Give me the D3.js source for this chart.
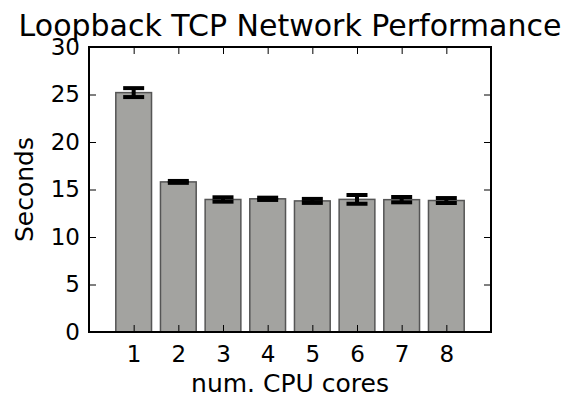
<!DOCTYPE html>
<html>
<head>
<meta charset="utf-8">
<script src="https://cdn.jsdelivr.net/npm/d3@7"></script>
<style>
  body { margin: 0; background: #fff; }
  text { font-family: "DejaVu Sans", sans-serif; fill: #000; }
</style>
</head>
<body>
<div id="chart"></div>
<script>
// data
var cores = [1, 2, 3, 4, 5, 6, 7, 8];
var seconds = [25.2, 15.8, 13.95, 14.02, 13.8, 13.96, 13.93, 13.84];
var errors = [0.47, 0.1, 0.23, 0.12, 0.21, 0.46, 0.28, 0.26];
var yTicks = [0, 5, 10, 15, 20, 25, 30];

var width = 579, height = 415;
var mLeft = 89, mRight = 491, mTop = 47, mBottom = 332;

var svg = d3.select('#chart').append('svg')
    .attr('width', width)
    .attr('height', height);

var x = d3.scaleLinear().domain([0, 9]).range([mLeft, mRight]);
var y = d3.scaleLinear().domain([0, 30]).range([mBottom, mTop]);

// bars
svg.append('g').selectAll('rect')
    .data(cores)
  .enter().append('rect')
    .attr('x', function(d) { return x(d - 0.4); })
    .attr('y', function(d, i) { return y(seconds[i]); })
    .attr('width', function(d) { return x(d + 0.4) - x(d - 0.4); })
    .attr('height', function(d, i) { return y(0) - y(seconds[i]); })
    .attr('fill', '#a3a3a0')
    .attr('stroke', '#555')
    .attr('stroke-width', 1.5);

// error bars
var eb = svg.append('g').selectAll('g')
    .data(cores)
  .enter().append('g');

eb.append('line')
    .attr('x1', function(d) { return x(d); })
    .attr('x2', function(d) { return x(d); })
    .attr('y1', function(d, i) { return y(seconds[i] - errors[i]); })
    .attr('y2', function(d, i) { return y(seconds[i] + errors[i]); })
    .attr('stroke', '#000')
    .attr('stroke-width', 4);

[-1, 1].forEach(function(s) {
  eb.append('line')
      .attr('x1', function(d) { return x(d) - 10.5; })
      .attr('x2', function(d) { return x(d) + 10.5; })
      .attr('y1', function(d, i) { return y(seconds[i] + s * errors[i]); })
      .attr('y2', function(d, i) { return y(seconds[i] + s * errors[i]); })
      .attr('stroke', '#000')
      .attr('stroke-width', 4);
});

// axes, ticks inside on all four sides
var tl = 7;
var gx = svg.append('g').attr('transform', 'translate(0,' + mBottom + ')')
    .call(d3.axisBottom(x).tickValues(cores).tickSize(-tl).tickPadding(12).tickFormat(d3.format('d')));
var gxt = svg.append('g').attr('transform', 'translate(0,' + mTop + ')')
    .call(d3.axisTop(x).tickValues(cores).tickSize(-tl).tickFormat(''));
var gy = svg.append('g').attr('transform', 'translate(' + mLeft + ',0)')
    .call(d3.axisLeft(y).tickValues(yTicks).tickSize(-tl).tickPadding(9));
var gyr = svg.append('g').attr('transform', 'translate(' + mRight + ',0)')
    .call(d3.axisRight(y).tickValues(yTicks).tickSize(-tl).tickFormat(''));

[gx, gxt, gy, gyr].forEach(function(g) {
  g.select('.domain').remove();
  g.selectAll('.tick line').attr('stroke', '#000').attr('stroke-width', 1);
  g.selectAll('.tick text').attr('font-size', 23).attr('font-family', 'DejaVu Sans');
});
gx.selectAll('.tick text').attr('dy', '0.78em');

svg.append('rect')
    .attr('x', mLeft).attr('y', mTop)
    .attr('width', mRight - mLeft).attr('height', mBottom - mTop)
    .attr('fill', 'none')
    .attr('stroke', '#000')
    .attr('stroke-width', 2);

// labels
svg.append('text')
    .attr('x', (mLeft + mRight) / 2).attr('y', 36)
    .attr('text-anchor', 'middle')
    .attr('font-size', 30)
    .text('Loopback TCP Network Performance');

svg.append('text')
    .attr('x', (mLeft + mRight) / 2).attr('y', 392)
    .attr('text-anchor', 'middle')
    .attr('font-size', 25)
    .text('num. CPU cores');

svg.append('text')
    .attr('transform', 'translate(33,' + (mTop + mBottom) / 2 + ') rotate(-90)')
    .attr('text-anchor', 'middle')
    .attr('font-size', 25)
    .text('Seconds');
</script>
</body>
</html>
